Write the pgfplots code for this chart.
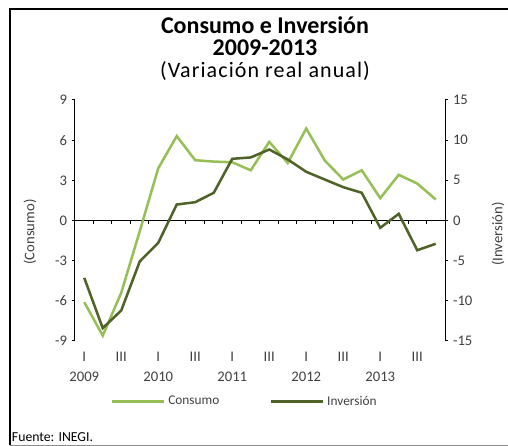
\documentclass[border=0pt]{standalone}
\usepackage{fontspec}
\setmainfont{Carlito}
\newfontfamily\subfont[LetterSpace=5]{Carlito}
\usepackage{pgfplots}
\pgfplotsset{compat=1.18}
\definecolor{cons}{RGB}{150,192,85}
\definecolor{inv}{RGB}{79,98,40}
\definecolor{lbl}{RGB}{64,64,64}
\begin{document}
\begin{tikzpicture}
\path[use as bounding box] (0,0) rectangle (381pt,334.5pt);
\draw[line width=1.5pt] (7.5pt,0.4pt) -- (7.5pt,328.1pt) -- (381pt,328.1pt);
\draw[black!45, line width=0.75pt] (7.5pt,0.4pt) -- (381pt,0.4pt);
\node[anchor=base, inner sep=0pt, font=\fontsize{18}{21}\selectfont\bfseries] at (198.75pt,309.5pt) {Consumo e Inversión};
\node[anchor=base, inner sep=0pt, font=\fontsize{18}{21}\selectfont\bfseries] at (198.75pt,292.5pt) {2009-2013};
\node[anchor=base, inner sep=0pt, font={\subfont\fontsize{16.5}{20}\selectfont}] at (198.75pt,276.6pt) {(Variación real anual)};
\node[anchor=base west, font=\fontsize{10.3}{12}\selectfont, inner sep=0pt] at (8.8pt,3pt) {Fuente: INEGI.};

\begin{axis}[
  at={(56.25pt,78.75pt)}, anchor=south west, scale only axis,
  width=277.5pt, height=180.75pt,
  xmin=-0.5, xmax=19.5, ymin=-9, ymax=9,
  axis x line=middle, axis y line*=left,
  axis line style={-, line width=0.75pt},
  hide obscured x ticks=false, hide obscured y ticks=false,
  xtick={0.5,1.5,...,18.5}, xticklabels={},
  ytick={-9,-6,...,9},
  tick align=outside, major tick length=2.5pt,
  tick style={black, line width=0.75pt},
  ticklabel style={font=\fontsize{11}{13}\selectfont, text=lbl},
  /pgf/number format/assume math mode=true,
  clip=false,
]
\addplot[cons, line width=1.9pt] coordinates {
(0,-6.1) (1,-8.6) (2,-5.4) (3,-0.8) (4,3.9) (5,6.3) (6,4.5) (7,4.4) (8,4.35) (9,3.75)
(10,5.87) (11,4.3) (12,6.87) (13,4.48) (14,3.06) (15,3.75) (16,1.67) (17,3.41) (18,2.76) (19,1.57)};
\end{axis}

\begin{axis}[
  at={(56.25pt,78.75pt)}, anchor=south west, scale only axis,
  width=277.5pt, height=180.75pt,
  xmin=-0.5, xmax=19.5, ymin=-15, ymax=15,
  axis y line*=right, axis x line*=bottom,
  x axis line style={draw=none},
  y axis line style={-, line width=0.75pt},
  xtick={0,2,...,18},
  xticklabels={{I\\2009},III,{I\\2010},III,{I\\2011},III,{I\\2012},III,{I\\2013},III},
  xticklabel style={align=center, font=\fontsize{11}{15.5}\selectfont, text=lbl, yshift=-2pt},
  xtick style={draw=none},
  ytick={-15,-10,...,15},
  tick align=outside, major tick length=2.5pt,
  ytick style={black, line width=0.75pt},
  yticklabel style={font=\fontsize{11}{13}\selectfont, text=lbl},
  /pgf/number format/assume math mode=true,
  clip=false,
  legend style={at={(0.46,-0.251)}, anchor=center, legend columns=2, draw=none, fill=none,
    font=\fontsize{10}{12}\selectfont, text=lbl,
    /tikz/every even column/.append style={column sep=36pt}},
  legend image code/.code={\draw[#1] (0pt,0pt) -- (39pt,0pt);},
]
\addlegendimage{cons, line width=1.9pt}
\addlegendentry{Consumo}
\addplot[inv, line width=1.9pt] coordinates {
(0,-7.14) (1,-13.4) (2,-11.2) (3,-5.1) (4,-2.78) (5,1.99) (6,2.28) (7,3.45) (8,7.68) (9,7.85)
(10,8.84) (11,7.6) (12,6.06) (13,5.1) (14,4.15) (15,3.45) (16,-0.91) (17,0.83) (18,-3.7) (19,-2.9)};
\addlegendentry{Inversión}
\end{axis}

\node[rotate=90, font=\fontsize{11}{13}\selectfont, text=lbl] at (22.5pt,160.5pt) {(Consumo)};
\node[rotate=90, font=\fontsize{11}{13}\selectfont, text=lbl] at (373.5pt,159pt) {(Inversión)};
\end{tikzpicture}
\end{document}
